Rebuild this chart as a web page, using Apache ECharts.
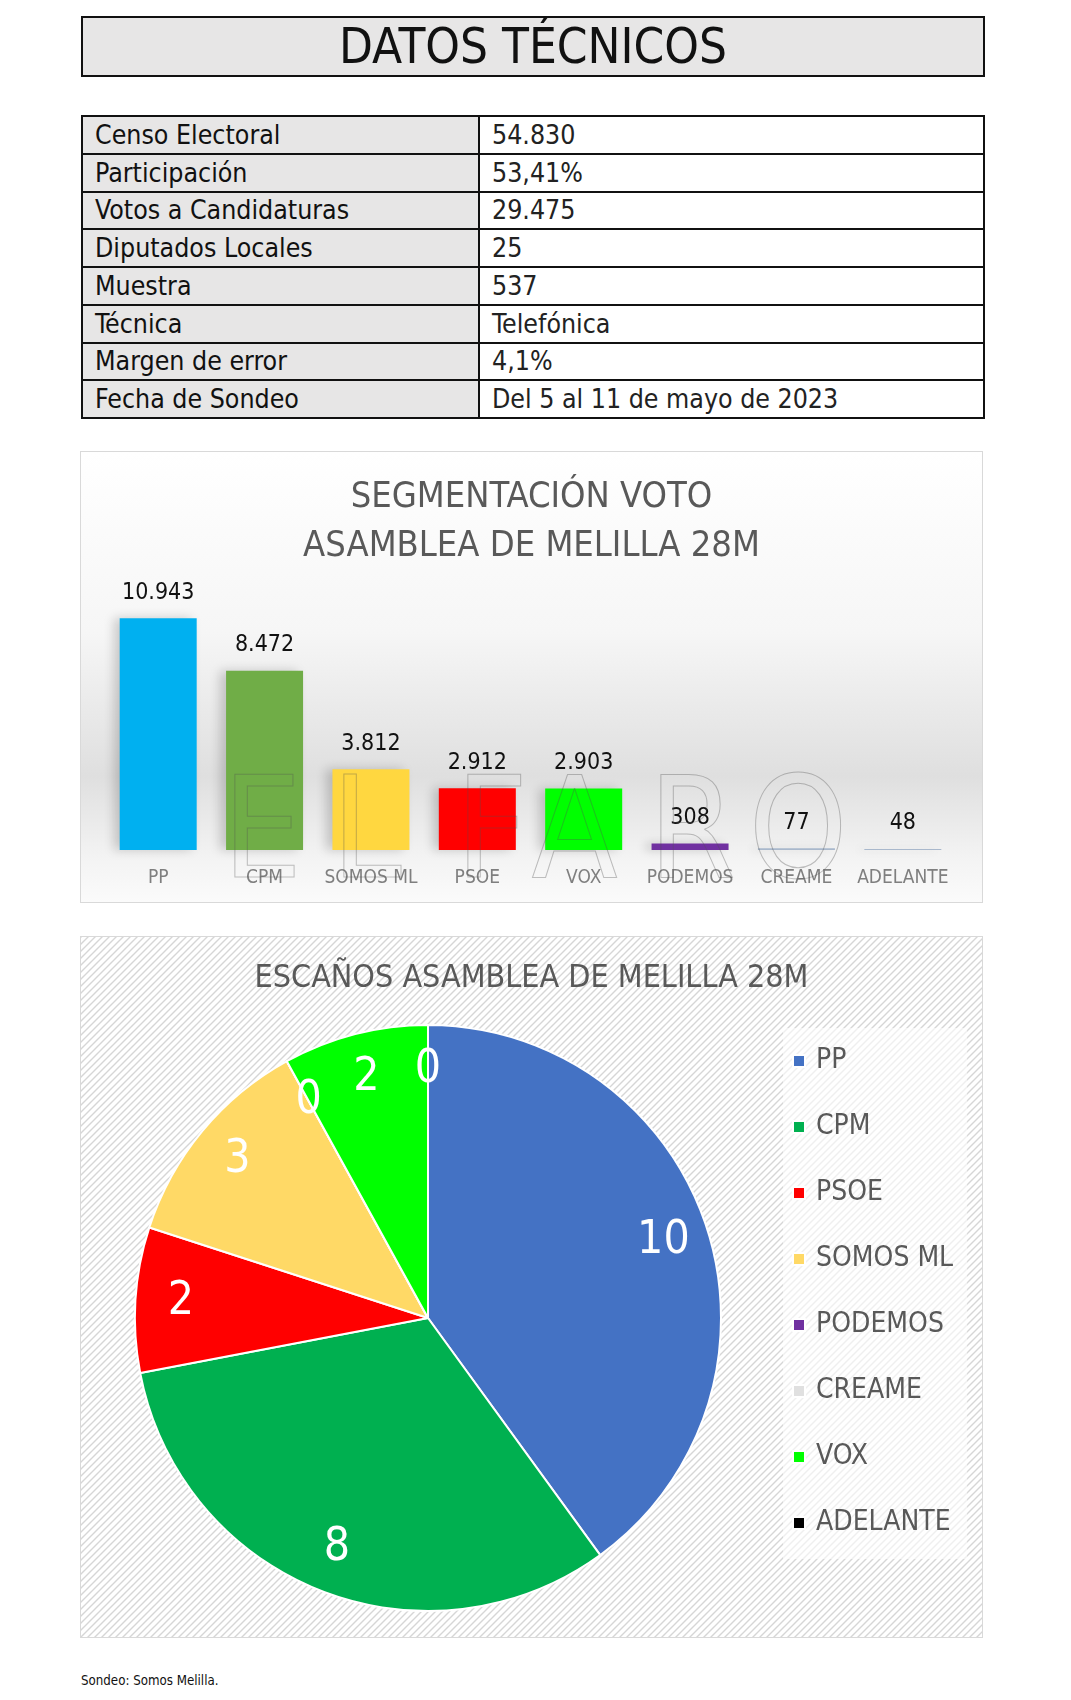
<!DOCTYPE html>
<html>
<head>
<meta charset="utf-8">
<script src="https://cdn.jsdelivr.net/npm/echarts@6/dist/echarts.min.js"></script>
<style>
body { margin: 0; background: #fff; width: 1071px; height: 1700px; position: relative;
  font-family: "DejaVu Sans Condensed", "DejaVu Sans", sans-serif; }
#cabecera { position: absolute; left: 81px; top: 16px; width: 900px; height: 57px; border: 2px solid #111;
  background: #e7e6e6; text-align: center; font-size: 49px; line-height: 58px; color: #111; }
#tabla { position: absolute; left: 81px; top: 115px; width: 904px; border-collapse: collapse; }
#tabla td { border: 2px solid #111; height: 35.75px; padding: 0 12px; font-size: 26.5px; line-height: 26px; }
#tabla td.et { background: #e7e6e6; width: 371px; color: #111; }
#tabla td.va { color: #222; }
#barras { position: absolute; left: 81px; top: 452px; width: 901px; height: 450px; outline: 1px solid #d9d9d9; }
#tarta { position: absolute; left: 81px; top: 937px; width: 901px; height: 700px; outline: 1px solid #d9d9d9; }
#nota { position: absolute; left: 81px; top: 1673px; font-size: 13.2px; color: #111; }
</style>
</head>
<body>
<div id="cabecera">DATOS TÉCNICOS</div>
<table id="tabla"></table>
<div id="barras"></div>
<div id="tarta"></div>
<div id="nota">Sondeo: Somos Melilla.</div>
<script>
// ficha técnica
var fichaEtiquetas = ['Censo Electoral', 'Participación', 'Votos a Candidaturas', 'Diputados Locales',
  'Muestra', 'Técnica', 'Margen de error', 'Fecha de Sondeo'];
var fichaValores = ['54.830', '53,41%', '29.475', '25', '537', 'Telefónica', '4,1%', 'Del 5 al 11 de mayo de 2023'];

// votos por partido
var partidos = ['PP', 'CPM', 'SOMOS ML', 'PSOE', 'VOX', 'PODEMOS', 'CREAME', 'ADELANTE'];
var votos = [10943, 8472, 3812, 2912, 2903, 308, 77, 48];
var coloresBarras = ['#00b0f0', '#70ad47', '#ffd740', '#ff0000', '#00ff00', '#7030a0', '#a9b8cc', '#a9b8cc'];

// escaños
var partidosEscanos = ['PP', 'CPM', 'PSOE', 'SOMOS ML', 'PODEMOS', 'CREAME', 'VOX', 'ADELANTE'];
var escanos = [10, 8, 2, 3, 0, 0, 2, 0];
var coloresTarta = ['#4472c4', '#00b050', '#ff0000', '#ffd966', '#7030a0', '#e0e0e0', '#00ff00', '#000000'];

var fuente = '"DejaVu Sans Condensed", "DejaVu Sans", sans-serif';

var tabla = document.getElementById('tabla');
for (var i = 0; i < fichaEtiquetas.length; i++) {
  var tr = document.createElement('tr');
  tr.innerHTML = '<td class="et">' + fichaEtiquetas[i] + '</td><td class="va">' + fichaValores[i] + '</td>';
  tabla.appendChild(tr);
}

function miles(v) {
  return String(v).replace(/\B(?=(\d{3})+(?!\d))/g, '.');
}

// marca de agua "EL FARO", letra a letra
var marca = [['E', 222], ['L', 331], ['F', 455], ['A', 531], ['R', 648], ['O', 748]];
var trazoMarca = 'rgba(80,80,80,0.35)';

var graficoBarras = echarts.init(document.getElementById('barras'));
graficoBarras.setOption({
  animation: false,
  backgroundColor: {
    type: 'linear', x: 0, y: 0, x2: 0, y2: 1,
    colorStops: [
      { offset: 0, color: '#ffffff' },
      { offset: 0.4, color: '#f6f6f6' },
      { offset: 0.72, color: '#dfdfdf' },
      { offset: 0.9, color: '#f3f3f3' },
      { offset: 1, color: '#fbfbfb' }
    ]
  },
  title: {
    text: 'SEGMENTACIÓN VOTO\nASAMBLEA DE MELILLA 28M',
    left: 'center', top: 16,
    textStyle: { fontFamily: fuente, fontSize: 36, lineHeight: 49, fontWeight: 'normal', color: '#595959' }
  },
  grid: { left: 24, right: 26, top: 144, bottom: 52 },
  xAxis: {
    type: 'category', data: partidos,
    axisLine: { show: false }, axisTick: { show: false },
    axisLabel: { interval: 0, margin: 19, fontSize: 19, color: '#7f7f7f', fontFamily: fuente }
  },
  yAxis: { type: 'value', min: 0, max: 12000, show: false },
  graphic: marca.map(function (m) {
    return {
      type: 'text', left: m[1] - 81, top: 318, silent: true, z: 10,
      style: { text: m[0], font: '140px "DejaVu Sans Condensed"', fill: 'rgba(0,0,0,0)', stroke: trazoMarca, lineWidth: 1 }
    };
  }),
  series: [{
    type: 'bar', barWidth: 77,
    data: votos.map(function (v, i) { return { value: v, itemStyle: { color: coloresBarras[i] } }; }),
    itemStyle: { shadowColor: 'rgba(0,0,0,0.18)', shadowBlur: 10, shadowOffsetX: -6 },
    label: {
      show: true, position: 'top', distance: 14, fontSize: 23, color: '#111', fontFamily: fuente,
      formatter: function (p) { return miles(p.value); }
    }
  }]
});

// fondo rayado
var tesela = document.createElement('canvas');
tesela.width = 7; tesela.height = 7;
var ctx = tesela.getContext('2d');
ctx.fillStyle = '#ffffff'; ctx.fillRect(0, 0, 7, 7);
ctx.strokeStyle = '#d6d6d6'; ctx.lineWidth = 1.4;
ctx.beginPath();
ctx.moveTo(-1, 8); ctx.lineTo(8, -1);
ctx.moveTo(-1, 1); ctx.lineTo(1, -1);
ctx.moveTo(6, 8); ctx.lineTo(8, 6);
ctx.stroke();

var datosTarta = partidosEscanos.map(function (n, i) {
  return { name: n, value: escanos[i], itemStyle: { color: coloresTarta[i] } };
});

var graficoTarta = echarts.init(document.getElementById('tarta'));
graficoTarta.setOption({
  animation: false,
  backgroundColor: { image: tesela, repeat: 'repeat' },
  title: {
    text: 'ESCAÑOS ASAMBLEA DE MELILLA 28M',
    left: 'center', top: 21,
    textStyle: { fontFamily: fuente, fontSize: 32, fontWeight: 'normal', color: '#595959' }
  },
  legend: {
    orient: 'vertical', left: 702, top: 91,
    padding: [19, 14, 22, 9], itemGap: 38, itemWidth: 12, itemHeight: 12, icon: 'rect',
    backgroundColor: 'rgba(255,255,255,0.6)',
    textStyle: { fontFamily: fuente, fontSize: 28, lineHeight: 26, color: '#595959', padding: [0, 0, 0, 6] },
    data: partidosEscanos
  },
  series: [{
    type: 'pie', center: [347, 381], radius: [0, 293],
    label: { show: false }, labelLine: { show: false },
    itemStyle: { borderColor: '#ffffff', borderWidth: 2 },
    emphasis: { disabled: true },
    data: datosTarta
  }, {
    type: 'pie', center: [347, 381], radius: [196, 293], silent: true,
    itemStyle: { color: 'rgba(0,0,0,0)' },
    label: { show: true, position: 'inside', color: '#ffffff', fontSize: 46, fontFamily: fuente, formatter: '{c}' },
    labelLine: { show: false },
    data: partidosEscanos.map(function (n, i) { return { name: n, value: escanos[i] }; })
  }]
});
</script>
</body>
</html>
